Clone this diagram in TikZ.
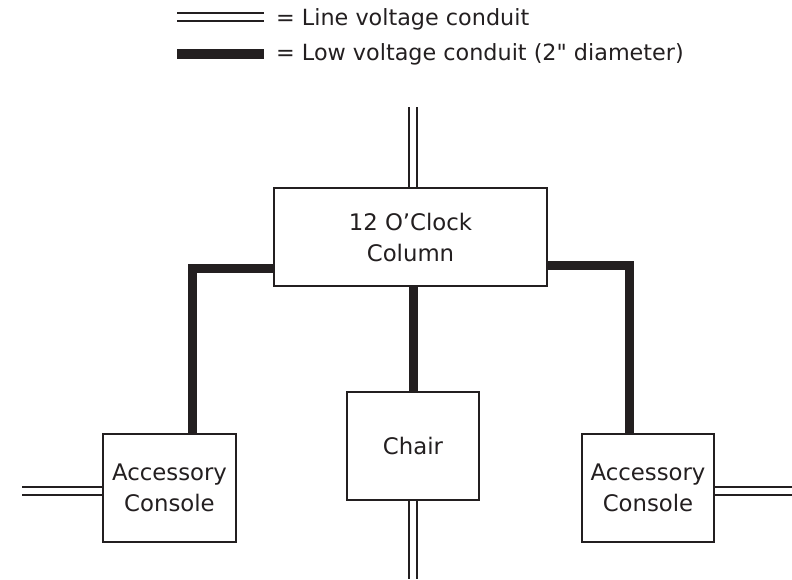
\documentclass[tikz,border=0pt]{standalone}
\usepackage{fontspec}
\setmainfont{DejaVu Sans}[Ligatures=TeXOff]
\definecolor{ink}{HTML}{231F20}
\begin{document}
\begin{tikzpicture}[x=1pt,y=-1pt,
  box/.style={draw=ink,line width=2.2pt,fill=white,inner sep=0pt,align=center,
    font=\fontsize{22.8}{31}\selectfont,text=ink},
  lineV/.style={draw=ink,line width=2.4pt,double=white,double distance=5.4pt},
  lowV/.style={draw=ink,line width=9pt,line join=miter},
  legtext/.style={anchor=west,inner sep=0pt,font=\fontsize{22.3}{26}\selectfont,text=ink}]
\useasboundingbox (0,0) rectangle (792,579);
% legend
\coordinate (l1a) at (177,17);
\coordinate (l1b) at (264,17);
\coordinate (l2a) at (177,54);
\coordinate (l2b) at (264,54);
\draw[lineV] (l1a) -- (l1b);
\draw[draw=ink,line width=10pt] (l2a) -- (l2b);
\node[legtext] (t1) at (276,19) {= Line voltage conduit};
\node[legtext] (t2) at (276,54) {= Low voltage conduit (2" diameter)};
% boxes
\node[box,minimum width=273pt,minimum height=98pt] (col) at (410.5,237) {12 O’Clock\\Column};
\node[box,minimum width=132pt,minimum height=108pt] (chair) at (413,446) {Chair};
\node[box,minimum width=133pt,minimum height=108pt] (lac) at (169.5,488) {Accessory\\Console};
\node[box,minimum width=132pt,minimum height=108pt] (rac) at (648,488) {Accessory\\Console};
% free ends
\coordinate (topend) at (413,107);
\coordinate (botend) at (413,579);
\coordinate (leftend) at (22,491);
\coordinate (rightend) at (792,491);
\coordinate (lk) at (192,268);
\coordinate (rk) at (629,265);
% line voltage
\draw[lineV] (topend) -- (topend |- col.north);
\draw[lineV] (chair.south) -- (botend);
\draw[lineV] (leftend) -- (leftend -| lac.west);
\draw[lineV] (rightend -| rac.east) -- (rightend);
% low voltage
\draw[lowV] (lk -| col.west) -| (lk |- lac.north);
\draw[lowV] (rk -| col.east) -| (rk |- rac.north);
\draw[lowV] (col.south -| chair.north) -- (chair.north);
% redraw boxes on top
\node[box,minimum width=273pt,minimum height=98pt] at (col) {12 O’Clock\\Column};
\node[box,minimum width=132pt,minimum height=108pt] at (chair) {Chair};
\node[box,minimum width=133pt,minimum height=108pt] at (lac) {Accessory\\Console};
\node[box,minimum width=132pt,minimum height=108pt] at (rac) {Accessory\\Console};
\end{tikzpicture}
\end{document}
